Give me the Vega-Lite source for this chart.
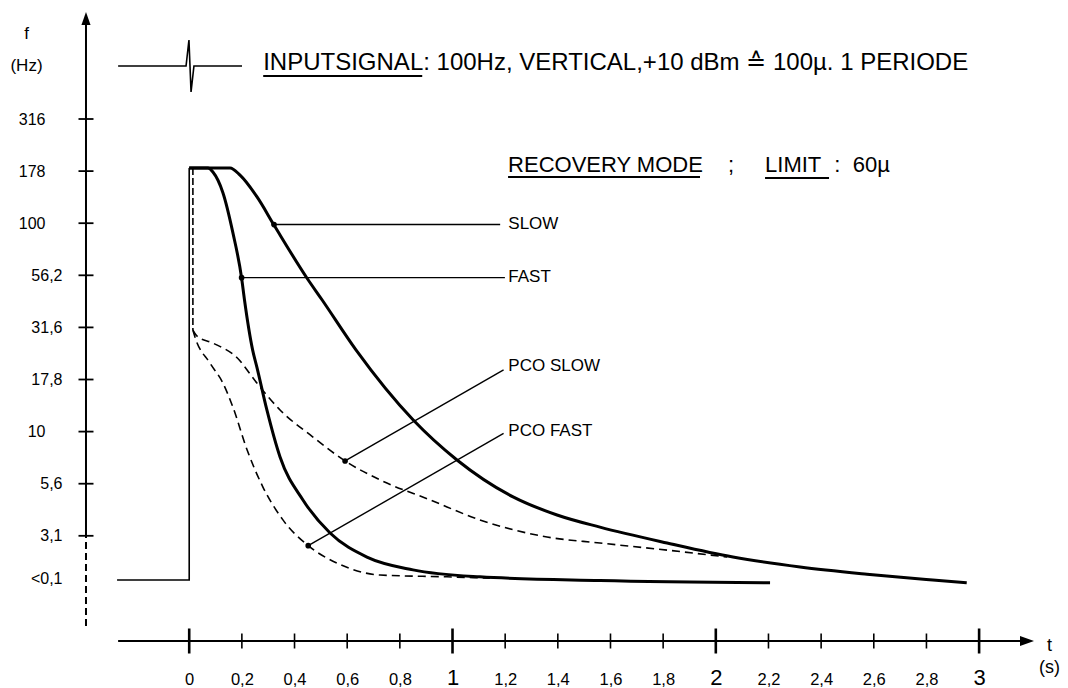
{
  "$schema": "https://vega.github.io/schema/vega-lite/v6.json",
  "width": 1068,
  "height": 688,
  "autosize": {"type": "none"},
  "padding": 0,
  "background": "white",
  "config": {"view": {"stroke": null}, "font": "Liberation Sans", "axisX": {"labelFontSize": 16.5}, "axisY": {"labelFontSize": 16}},
  "datasets": {
    "curves": [
      {"s": "SLOW", "t": 0, "f": 184}, {"s": "SLOW", "t": 0.155, "f": 184}, {"s": "SLOW", "t": 0.193, "f": 170},
      {"s": "SLOW", "t": 0.257, "f": 134}, {"s": "SLOW", "t": 0.322, "f": 98}, {"s": "SLOW", "t": 0.447, "f": 54.6},
      {"s": "SLOW", "t": 0.505, "f": 42.8}, {"s": "SLOW", "t": 0.634, "f": 24.6}, {"s": "SLOW", "t": 0.85, "f": 11.4},
      {"s": "SLOW", "t": 1.017, "f": 7.31}, {"s": "SLOW", "t": 1.23, "f": 4.86}, {"s": "SLOW", "t": 1.397, "f": 3.98},
      {"s": "SLOW", "t": 1.56, "f": 3.48}, {"s": "SLOW", "t": 1.815, "f": 2.92}, {"s": "SLOW", "t": 2.065, "f": 2.5},
      {"s": "SLOW", "t": 2.32, "f": 2.24}, {"s": "SLOW", "t": 2.574, "f": 2.07}, {"s": "SLOW", "t": 2.824, "f": 1.94},
      {"s": "SLOW", "t": 2.953, "f": 1.88},
      {"s": "FAST", "t": 0, "f": 184}, {"s": "FAST", "t": 0.071, "f": 184}, {"s": "FAST", "t": 0.09, "f": 176},
      {"s": "FAST", "t": 0.128, "f": 140}, {"s": "FAST", "t": 0.166, "f": 89.8}, {"s": "FAST", "t": 0.199, "f": 54.6},
      {"s": "FAST", "t": 0.21, "f": 42.8}, {"s": "FAST", "t": 0.241, "f": 24.6}, {"s": "FAST", "t": 0.257, "f": 20.4},
      {"s": "FAST", "t": 0.295, "f": 12.7}, {"s": "FAST", "t": 0.345, "f": 7.55}, {"s": "FAST", "t": 0.432, "f": 4.7},
      {"s": "FAST", "t": 0.535, "f": 3.26}, {"s": "FAST", "t": 0.675, "f": 2.5}, {"s": "FAST", "t": 0.85, "f": 2.17},
      {"s": "FAST", "t": 1.104, "f": 2.01}, {"s": "FAST", "t": 1.56, "f": 1.93}, {"s": "FAST", "t": 2.206, "f": 1.88}
    ],
    "pco": [
      {"s": "PCO FAST", "t": 0.014, "f": 30.7}, {"s": "PCO FAST", "t": 0.022, "f": 28.4}, {"s": "PCO FAST", "t": 0.079, "f": 21.3},
      {"s": "PCO FAST", "t": 0.128, "f": 17.1}, {"s": "PCO FAST", "t": 0.166, "f": 13.1}, {"s": "PCO FAST", "t": 0.22, "f": 8.16},
      {"s": "PCO FAST", "t": 0.28, "f": 5.42}, {"s": "PCO FAST", "t": 0.356, "f": 3.77}, {"s": "PCO FAST", "t": 0.452, "f": 2.835},
      {"s": "PCO FAST", "t": 0.561, "f": 2.34}, {"s": "PCO FAST", "t": 0.725, "f": 2.05}, {"s": "PCO FAST", "t": 0.979, "f": 2.01},
      {"s": "PCO FAST", "t": 1.142, "f": 1.98},
      {"s": "PCO SLOW", "t": 0.014, "f": 30.7}, {"s": "PCO SLOW", "t": 0.03, "f": 28.7}, {"s": "PCO SLOW", "t": 0.09, "f": 26.6},
      {"s": "PCO SLOW", "t": 0.182, "f": 22.6}, {"s": "PCO SLOW", "t": 0.257, "f": 17.1}, {"s": "PCO SLOW", "t": 0.345, "f": 12.7},
      {"s": "PCO SLOW", "t": 0.47, "f": 9.42}, {"s": "PCO SLOW", "t": 0.592, "f": 7.23}, {"s": "PCO SLOW", "t": 0.725, "f": 5.86},
      {"s": "PCO SLOW", "t": 0.915, "f": 4.7}, {"s": "PCO SLOW", "t": 1.104, "f": 3.77}, {"s": "PCO SLOW", "t": 1.359, "f": 3.12},
      {"s": "PCO SLOW", "t": 1.56, "f": 2.92}, {"s": "PCO SLOW", "t": 1.815, "f": 2.7}, {"s": "PCO SLOW", "t": 2.043, "f": 2.5}
    ],
    "pcov": [
      {"s": "PCO", "i": 0, "t": 0.014, "f": 184}, {"s": "PCO", "i": 1, "t": 0.014, "f": 30.7}
    ],
    "thin": [
      {"s": "STEP", "i": 0, "t": -0.274, "f": 1.94}, {"s": "STEP", "i": 1, "t": 0, "f": 1.94}, {"s": "STEP", "i": 2, "t": 0, "f": 184},
      {"s": "INPUT", "i": 0, "t": -0.27, "f": 568}, {"s": "INPUT", "i": 1, "t": -0.012, "f": 568}, {"s": "INPUT", "i": 2, "t": -0.001, "f": 757},
      {"s": "INPUT", "i": 3, "t": 0.007, "f": 426}, {"s": "INPUT", "i": 4, "t": 0.018, "f": 568}, {"s": "INPUT", "i": 5, "t": 0.2005, "f": 568}
    ],
    "leaders": [
      {"s": "SLOW", "t": 0.322, "f": 98.5, "t2": 1.181, "f2": 98.5},
      {"s": "FAST", "t": 0.199, "f": 54.8, "t2": 1.199, "f2": 54.8},
      {"s": "PCO SLOW", "t": 0.592, "f": 7.23, "t2": 1.194, "f2": 19.8},
      {"s": "PCO FAST", "t": 0.452, "f": 2.835, "t2": 1.194, "f2": 9.81}
    ],
    "labels": [
      {"lab": "SLOW", "t": 1.212, "f": 99.1},
      {"lab": "FAST", "t": 1.212, "f": 55.2},
      {"lab": "PCO SLOW", "t": 1.212, "f": 20.6},
      {"lab": "PCO FAST", "t": 1.212, "f": 10.07}
    ],
    "note1": [
      {"txt": "INPUTSIGNAL: 100Hz, VERTICAL,+10 dBm ≙ 100µ. 1 PERIODE", "t": 0.281, "f": 543.4}
    ],
    "note2": [
      {"txt": "RECOVERY MODE", "t": 1.211, "f": 176.1},
      {"txt": ";", "t": 2.046, "f": 176.1},
      {"txt": "LIMIT", "t": 2.187, "f": 176.1},
      {"txt": ":", "t": 2.45, "f": 176.1},
      {"txt": "60µ", "t": 2.52, "f": 176.1}
    ],
    "underlines": [
      {"t": 0.281, "t2": 0.885, "f": 508.6},
      {"t": 1.211, "t2": 1.94, "f": 166.6},
      {"t": 2.187, "t2": 2.43, "f": 164.8}
    ],
    "axislines": [
      {"t": -0.27, "t2": 3.17, "f": 0.989, "f2": 0.989},
      {"t": -0.392, "t2": -0.392, "f": 3.155, "f2": 960}
    ],
    "axisdash": [
      {"t": -0.392, "t2": -0.392, "f": 1.167, "f2": 3.155}
    ],
    "xminor": [
      {"t": 0.2}, {"t": 0.4}, {"t": 0.6}, {"t": 0.8}, {"t": 1.2}, {"t": 1.4}, {"t": 1.6}, {"t": 1.8},
      {"t": 2.2}, {"t": 2.4}, {"t": 2.6}, {"t": 2.8}
    ],
    "xmajor": [{"t": 0}, {"t": 1}, {"t": 2}, {"t": 3}],
    "yticks": [
      {"f": 316.2}, {"f": 177.8}, {"f": 100}, {"f": 56.23}, {"f": 31.62}, {"f": 17.78}, {"f": 10}, {"f": 5.623}, {"f": 3.162}
    ],
    "arrowup": [{"t": -0.392, "f": 959.8}],
    "arrowright": [{"t": 3.182, "f": 0.989}]
  },
  "layer": [
    {
      "data": {"name": "curves"},
      "mark": {"type": "line", "interpolate": "monotone", "strokeWidth": 3, "color": "black"},
      "encoding": {
        "x": {
          "field": "t", "type": "quantitative",
          "scale": {"type": "linear", "domain": [-0.7186, 3.3376], "nice": false, "zero": false},
          "axis": {
            "orient": "bottom", "offset": -47, "domain": false, "ticks": false, "tickSize": 0, "grid": false,
            "values": [0, 0.2, 0.4, 0.6, 0.8, 1, 1.2, 1.4, 1.6, 1.8, 2, 2.2, 2.4, 2.6, 2.8, 3],
            "labelExpr": "replace(toString(datum.value), '.', ',')",
            "labelBaseline": "alphabetic", "labelPadding": 43, "labelAlign": "center",
            "labelFontSize": {"condition": {"test": "datum.value >= 1 && datum.value % 1 == 0", "value": 22}, "value": 16.5},
            "labelColor": "black", "labelFlush": false, "labelOverlap": false,
            "title": ["t", "(s)"], "titleX": 1049, "titleY": 9, "titleAlign": "center", "titleBaseline": "alphabetic",
            "titleAngle": 0, "titleFontSize": 18, "titleFontWeight": "normal", "titleLineHeight": 22, "titleColor": "black"
          }
        },
        "y": {
          "field": "f", "type": "quantitative",
          "scale": {"type": "log", "domain": [0.5884, 1177.6], "nice": false},
          "axis": {
            "orient": "left", "offset": -86, "domain": false, "ticks": false, "tickSize": 0, "grid": false,
            "values": [316.2, 177.8, 100, 56.23, 31.62, 17.78, 10, 5.623, 3.162, 1.98],
            "labelExpr": "datum.value > 300 ? '316' : datum.value > 170 ? '178' : datum.value > 90 ? '100' : datum.value > 50 ? '56,2' : datum.value > 30 ? '31,6' : datum.value > 15 ? '17,8' : datum.value > 9 ? '10' : datum.value > 5 ? '5,6' : datum.value > 3 ? '3,1' : '<0,1'",
            "labelAlign": "right", "labelBaseline": "middle",
            "labelPadding": {"condition": {"test": "datum.value >= 90 || (datum.value > 9 && datum.value < 11)", "value": 41}, "value": 24},
            "labelFontSize": 16, "labelColor": "black", "labelOverlap": false, "labelFlush": false,
            "title": ["f", "(Hz)"], "titleX": -60, "titleY": 38, "titleAngle": 0, "titleAlign": "center",
            "titleBaseline": "alphabetic", "titleFontSize": 17, "titleFontWeight": "normal", "titleLineHeight": 32, "titleColor": "black"
          }
        },
        "detail": {"field": "s"}
      }
    },
    {
      "data": {"name": "pco"},
      "mark": {"type": "line", "interpolate": "monotone", "strokeWidth": 1.6, "strokeDash": [8, 5], "color": "black"},
      "encoding": {
        "x": {"field": "t", "type": "quantitative"},
        "y": {"field": "f", "type": "quantitative"},
        "detail": {"field": "s"}
      }
    },
    {
      "data": {"name": "pcov"},
      "mark": {"type": "line", "strokeWidth": 1.6, "strokeDash": [7, 3], "color": "black"},
      "encoding": {
        "x": {"field": "t", "type": "quantitative"},
        "y": {"field": "f", "type": "quantitative"},
        "order": {"field": "i"}
      }
    },
    {
      "data": {"name": "thin"},
      "mark": {"type": "line", "strokeWidth": 1.6, "color": "black"},
      "encoding": {
        "x": {"field": "t", "type": "quantitative"},
        "y": {"field": "f", "type": "quantitative"},
        "detail": {"field": "s"},
        "order": {"field": "i"}
      }
    },
    {
      "data": {"name": "leaders"},
      "mark": {"type": "rule", "strokeWidth": 1.4, "color": "black"},
      "encoding": {
        "x": {"field": "t", "type": "quantitative"},
        "y": {"field": "f", "type": "quantitative"},
        "x2": {"field": "t2"},
        "y2": {"field": "f2"}
      }
    },
    {
      "data": {"name": "leaders"},
      "mark": {"type": "point", "filled": true, "size": 32, "color": "black", "opacity": 1},
      "encoding": {
        "x": {"field": "t", "type": "quantitative"},
        "y": {"field": "f", "type": "quantitative"}
      }
    },
    {
      "data": {"name": "labels"},
      "mark": {"type": "text", "align": "left", "baseline": "middle", "fontSize": 17, "color": "black"},
      "encoding": {
        "x": {"field": "t", "type": "quantitative"},
        "y": {"field": "f", "type": "quantitative"},
        "text": {"field": "lab"}
      }
    },
    {
      "data": {"name": "note1"},
      "mark": {"type": "text", "align": "left", "baseline": "alphabetic", "fontSize": 24, "color": "black"},
      "encoding": {
        "x": {"field": "t", "type": "quantitative"},
        "y": {"field": "f", "type": "quantitative"},
        "text": {"field": "txt"}
      }
    },
    {
      "data": {"name": "note2"},
      "mark": {"type": "text", "align": "left", "baseline": "alphabetic", "fontSize": 22, "color": "black"},
      "encoding": {
        "x": {"field": "t", "type": "quantitative"},
        "y": {"field": "f", "type": "quantitative"},
        "text": {"field": "txt"}
      }
    },
    {
      "data": {"name": "underlines"},
      "mark": {"type": "rule", "strokeWidth": 2, "color": "black"},
      "encoding": {
        "x": {"field": "t", "type": "quantitative"},
        "y": {"field": "f", "type": "quantitative"},
        "x2": {"field": "t2"}
      }
    },
    {
      "data": {"name": "axislines"},
      "mark": {"type": "rule", "strokeWidth": 2, "color": "black"},
      "encoding": {
        "x": {"field": "t", "type": "quantitative"},
        "y": {"field": "f", "type": "quantitative"},
        "x2": {"field": "t2"},
        "y2": {"field": "f2"}
      }
    },
    {
      "data": {"name": "axisdash"},
      "mark": {"type": "rule", "strokeWidth": 2, "strokeDash": [7, 4], "color": "black"},
      "encoding": {
        "x": {"field": "t", "type": "quantitative"},
        "y": {"field": "f", "type": "quantitative"},
        "x2": {"field": "t2"},
        "y2": {"field": "f2"}
      }
    },
    {
      "data": {"name": "xminor"},
      "mark": {"type": "tick", "orient": "vertical", "size": 15, "thickness": 1.6, "color": "black", "opacity": 1},
      "encoding": {
        "x": {"field": "t", "type": "quantitative"},
        "y": {"datum": 0.989, "type": "quantitative"}
      }
    },
    {
      "data": {"name": "xmajor"},
      "mark": {"type": "tick", "orient": "vertical", "size": 25, "thickness": 2.6, "color": "black", "opacity": 1},
      "encoding": {
        "x": {"field": "t", "type": "quantitative"},
        "y": {"datum": 0.989, "type": "quantitative"}
      }
    },
    {
      "data": {"name": "yticks"},
      "mark": {"type": "tick", "orient": "horizontal", "size": 15, "thickness": 1.8, "color": "black", "opacity": 1},
      "encoding": {
        "x": {"datum": -0.392, "type": "quantitative"},
        "y": {"field": "f", "type": "quantitative"}
      }
    },
    {
      "data": {"name": "arrowup"},
      "mark": {"type": "point", "shape": "M-0.7,1L0,-1L0.7,1Z", "size": 169, "filled": true, "color": "black", "opacity": 1},
      "encoding": {
        "x": {"field": "t", "type": "quantitative"},
        "y": {"field": "f", "type": "quantitative"}
      }
    },
    {
      "data": {"name": "arrowright"},
      "mark": {"type": "point", "shape": "M-1,-0.7L1,0L-1,0.7Z", "size": 196, "filled": true, "color": "black", "opacity": 1},
      "encoding": {
        "x": {"field": "t", "type": "quantitative"},
        "y": {"field": "f", "type": "quantitative"}
      }
    }
  ]
}
